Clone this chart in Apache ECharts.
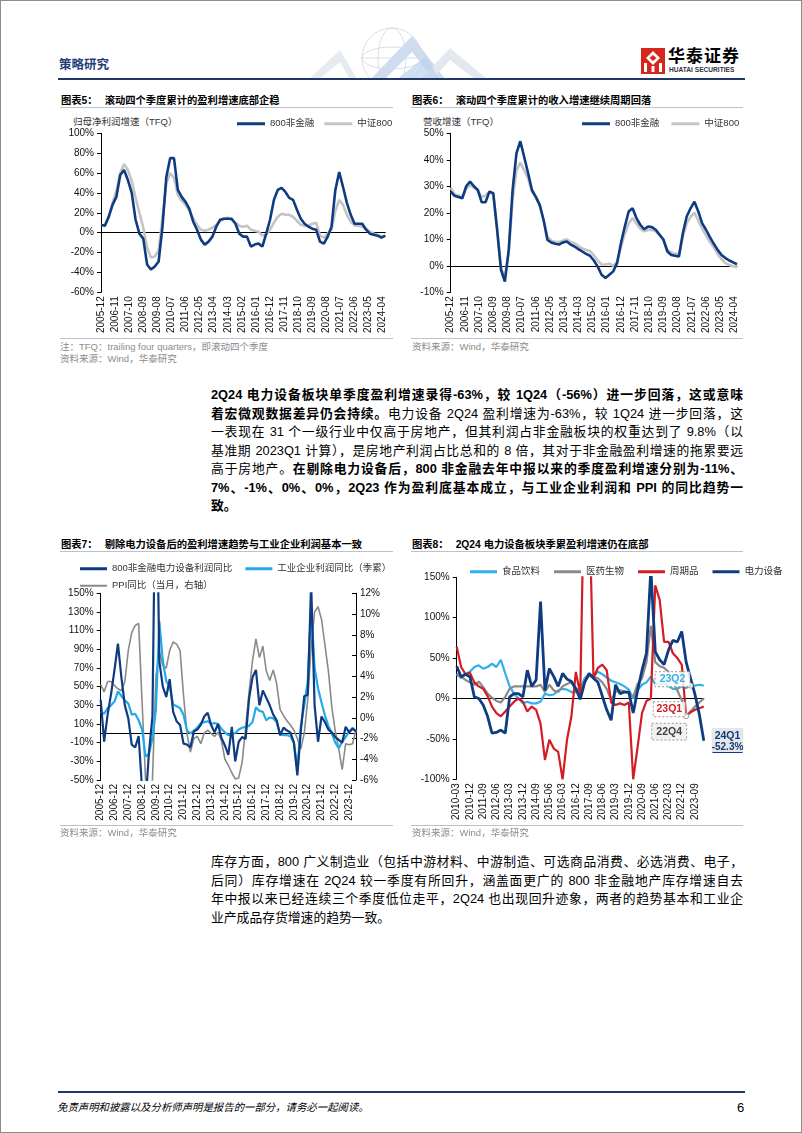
<!DOCTYPE html>
<html><head><meta charset="utf-8">
<script src="https://cdn.jsdelivr.net/npm/echarts@6/dist/echarts.min.js"></script>
<style>
html,body{margin:0;padding:0;background:#fff;}
#page{position:relative;width:802px;height:1133px;overflow:hidden;font-family:"Liberation Sans","Noto Sans CJK SC",sans-serif;color:#000;}
#frame{position:absolute;left:0;top:0;width:800px;height:1131px;border:1px solid #8d8d8d;pointer-events:none;}
.abs{position:absolute;white-space:nowrap;}
.title{font-size:10.3px;font-weight:bold;line-height:14px;}
.rule{position:absolute;height:1px;background:#b7c2d2;}
.note{font-size:9.5px;color:#8c8c8c;line-height:12px;}
.axname{font-size:9.5px;color:#333;line-height:12px;}
.para{position:absolute;left:211px;width:532px;font-size:12.8px;color:#000;}
.ln{text-align:justify;text-align-last:justify;height:18.5px;line-height:18.5px;overflow:hidden;}
.ln.last{text-align:left;text-align-last:left;}
.b{font-weight:bold;}
.chart{position:absolute;}
</style></head>
<body>
<div id="page">
  <!-- header -->
  <div class="abs" style="left:59px;top:57px;font-size:12.5px;font-weight:bold;color:#1f3d7a;line-height:16px;">策略研究</div>
  <svg class="abs" style="left:300px;top:26px" width="220" height="54">
    <g fill="none" stroke="#d9dee6" stroke-width="1">
      <circle cx="92" cy="32" r="30"/>
      <ellipse cx="92" cy="32" rx="14" ry="30"/>
      <ellipse cx="92" cy="32" rx="30" ry="11"/>
      <line x1="62" y1="32" x2="122" y2="32"/>
    </g>
    <polygon points="8,54 40,24 58,54 50,54 40,36 18,54" fill="#e6ebf1"/>
    <polygon points="70,54 112,10 146,54 134,54 112,26 84,54" fill="#cfdced"/>
    <polygon points="120,54 150,22 188,54 176,54 150,34 132,54" fill="#e3e8ef"/>
    <polygon points="96,54 126,30 140,54" fill="#b9d3ee" opacity="0.7"/>
  </svg>
  <svg class="abs" style="left:641px;top:48px" width="24" height="26">
    <rect x="0" y="0" width="24" height="26" fill="#d8261c"/>
    <polygon points="12,3 19,10 12,17 5,10" fill="#fff"/>
    <polygon points="12,7 15.5,10 12,13 8.5,10" fill="#d8261c"/>
    <rect x="3" y="15" width="3" height="9" fill="#fff"/>
    <rect x="10.5" y="18" width="3" height="6" fill="#fff"/>
    <rect x="18" y="15" width="3" height="9" fill="#fff"/>
  </svg>
  <div class="abs" style="left:668px;top:47px;font-size:17px;font-weight:bold;line-height:20px;letter-spacing:1px;">华泰证券</div>
  <div class="abs" style="left:669px;top:66px;font-size:6.6px;font-weight:bold;line-height:8px;color:#333;">HUATAI SECURITIES</div>
  <div class="abs" style="left:58px;top:78px;width:687px;height:2px;background:#1f3864;"></div>

  <!-- chart 5 / 6 titles -->
  <div class="abs title" style="left:61px;top:94px">图表5：<span style="margin-left:7px">滚动四个季度累计的盈利增速底部企稳</span></div>
  <div class="rule" style="left:60px;top:107px;width:333px;"></div>
  <div class="abs title" style="left:412px;top:94px">图表6：<span style="margin-left:7px">滚动四个季度累计的收入增速继续周期回落</span></div>
  <div class="rule" style="left:411px;top:107px;width:332px;"></div>
  <div class="abs axname" style="left:73px;top:116px">归母净利润增速（TFQ）</div>
  <div class="abs axname" style="left:423px;top:116px">营收增速（TFQ）</div>

  <div id="c5" class="chart" style="left:60px;top:112px;width:340px;height:225px;"></div>
  <div id="c6" class="chart" style="left:400px;top:112px;width:402px;height:225px;"></div>

  <div class="rule" style="left:60px;top:338px;width:333px;"></div>
  <div class="abs note" style="left:60px;top:341px">注：TFQ：trailing four quarters，即滚动四个季度</div>
  <div class="abs note" style="left:60px;top:353px">资料来源：Wind，华泰研究</div>
  <div class="rule" style="left:411px;top:338px;width:332px;"></div>
  <div class="abs note" style="left:412px;top:341px">资料来源：Wind，华泰研究</div>

  <!-- paragraph 1 -->
  <div class="para" style="top:386px;">
    <div class="ln b">2Q24 电力设备板块单季度盈利增速录得-63%，较 1Q24（-56%）进一步回落，这或意味</div>
    <div class="ln"><span class="b">着宏微观数据差异仍会持续。</span>电力设备 2Q24 盈利增速为-63%，较 1Q24 进一步回落，这</div>
    <div class="ln">一表现在 31 个一级行业中仅高于房地产，但其利润占非金融板块的权重达到了 9.8%（以</div>
    <div class="ln">基准期 2023Q1 计算），是房地产利润占比总和的 8 倍，其对于非金融盈利增速的拖累要远</div>
    <div class="ln">高于房地产。<span class="b">在剔除电力设备后，800 非金融去年中报以来的季度盈利增速分别为-11%、</span></div>
    <div class="ln b">7%、-1%、0%、0%，2Q23 作为盈利底基本成立，与工业企业利润和 PPI 的同比趋势一</div>
    <div class="ln b last">致。</div>
  </div>

  <!-- chart 7 / 8 titles -->
  <div class="abs title" style="left:61px;top:538px">图表7：<span style="margin-left:7px">剔除电力设备后的盈利增速趋势与工业企业利润基本一致</span></div>
  <div class="rule" style="left:60px;top:551px;width:333px;"></div>
  <div class="abs title" style="left:412px;top:538px">图表8：<span style="margin-left:7px">2Q24 电力设备板块季累盈利增速仍在底部</span></div>
  <div class="rule" style="left:411px;top:551px;width:332px;"></div>

  <div id="c7" class="chart" style="left:60px;top:556px;width:340px;height:275px;"></div>
  <div id="c8" class="chart" style="left:400px;top:556px;width:402px;height:275px;"></div>

  <div class="rule" style="left:60px;top:825px;width:333px;"></div>
  <div class="abs note" style="left:60px;top:827px">资料来源：Wind，华泰研究</div>
  <div class="rule" style="left:411px;top:825px;width:332px;"></div>
  <div class="abs note" style="left:412px;top:827px">资料来源：Wind，华泰研究</div>

  <!-- paragraph 2 -->
  <div class="para" style="top:853px;">
    <div class="ln">库存方面，800 广义制造业（包括中游材料、中游制造、可选商品消费、必选消费、电子，</div>
    <div class="ln">后同）库存增速在 2Q24 较一季度有所回升，涵盖面更广的 800 非金融地产库存增速自去</div>
    <div class="ln">年中报以来已经连续三个季度低位走平，2Q24 也出现回升迹象，两者的趋势基本和工业企</div>
    <div class="ln last">业产成品存货增速的趋势一致。</div>
  </div>

  <!-- footer -->
  <div class="abs" style="left:58px;top:1091px;width:687px;height:2px;background:#1f3864;"></div>
  <div class="abs" style="left:57px;top:1101px;font-size:10.4px;font-style:italic;line-height:14px;">免责声明和披露以及分析师声明是报告的一部分，请务必一起阅读。</div>
  <div class="abs" style="left:737px;top:1100px;font-size:13px;line-height:16px;">6</div>
  <div id="frame"></div>
</div>

<script>
// ---------------- DATA ----------------
// Charts 5-7: quarterly readings placed on a monthly axis (2005-12 ... 2024-06)
const monthStart = [2005, 12], monthEnd = [2024, 6];
// Chart 5: 归母净利润增速（TFQ）, quarter-ends from 2005-12 to 2024-06
const c5NonFin = [8,7,16,28,36,58,63,53,40,13,-1,-6,-32,-37,-34,-29,6,56,75,75,43,36,31,24,11,3,-7,-12,-9,-4,6,13,14,14,14,9,-1,-4,-4,-14,-12,-11,-14,-1,13,33,43,45,41,35,33,23,14,9,6,4,3,-9,-11,-4,6,43,61,46,30,18,9,9,9,3,-1,-2,-3,-5,-3];
const c5Csi800 = [8,7,15,30,42,60,69,63,52,35,20,5,-15,-25,-24,-18,15,50,60,55,38,32,28,22,14,8,3,2,3,5,8,12,14,15,13,10,7,6,7,3,2,1,-3,-2,3,10,16,19,18,18,16,12,8,7,7,9,10,-3,-5,-1,3,22,33,28,18,11,7,7,6,4,1,-1,-2,-4,-3];
// Chart 6: 营收增速（TFQ）
const c6NonFin = [28,26.4,26,25.5,30,31.8,30,28.6,24,24,28,27.4,13.6,-1.5,-6,6,28.6,42.5,47,41,35,28.6,26,23,17.3,9.8,8.8,8.3,8,8.8,9.2,8,7.3,6.3,5.4,4.5,3.8,2,-0.3,-3.4,-4.6,-3.4,-2.1,1,8.5,14.8,20.5,21.7,18,15.5,13.8,14.8,14.6,13.6,11.7,9.8,5.4,4.1,3.8,3.5,12.3,18.6,21.7,24.2,20.5,16,13.6,10.8,8.3,6,4.1,2.9,2,1.3,0.6];
const c6Csi800 = [29.5,27,26.5,26,29,30.5,29.5,28.5,26,26.5,28,27,14,-1,-4,5,25,36,39,36,33,28,26,23,17.5,11,9.5,9,9,9.5,10,9,8.5,7.5,6.5,6,5.5,4,2,0.5,0.5,0.8,0,1.5,7,12,16,18,16,14,13,13.5,13.5,13,11.5,10,6,5,4.5,4.5,11,16,18.5,20,17,14,11.5,9,7,4.5,2.5,1,0.3,-0.2,-0.5];
// Chart 7
const c7NonFinExPower = [36,-9,20,42,68,96,60,30,16,-12,-15,-3,-60,-75,-20,18,320,77,50,39,58,23,13,9,-11,-12,-15,2,4,9,18,22,9,1,10,-5,-13,-23,7,-30,-9,-4,-6,37,60,68,30,46,38,30,20,14,-2,6,3,1,-10,-45,2,40,41,160,30,-9,18,12,4,1,-4,-7,-10,7,1,5,2];
const c7Industrial = [23,21,27,30,34,45,40,35,32,20,21,14,4,-25,-22,-5,25,120,78,56,50,31,29,27,20,3,0,3,6,11,12,13,10,11,10,5,1,-2,0,0,4,6,7,8,12,28,24,23,14,17,16,12,-1,-2,-2,-3,-10,-38,8,30,55,136,70,48,33,19,8,0,-10,-16,-9,-4,2,6,2];
const c7Ppi = [3.2,2.5,3.5,3.5,3.1,2.8,2.6,3.5,6.5,8.2,8.9,9.1,1.5,-6.0,-8.2,-6.0,4.0,6.4,5.0,4.8,6.5,7.3,7.1,6.5,2.2,-1.5,-3.3,-2.0,-1.8,-2.5,-1.5,-1.2,-1.5,-1.8,-1.4,-2.2,-4.0,-4.6,-5.3,-5.9,-5.8,-4.3,-1.0,2.5,5.5,7.6,5.8,6.9,4.5,3.6,4.6,3.3,0.8,0.2,-0.3,-0.7,-1.2,-2.0,-3.0,-1.5,1.7,6.8,10.2,10.7,9.5,7.0,4.5,1.0,-1.3,-3.0,-5.0,-2.5,-2.6,-2.5,-1.2];
// Chart 8: quarterly 2010-03 ... 2024-03
const quarterStart = [2010, 3], quarterEnd = [2024, 3];
const c8Food   = [31,25,30,33,39,41,37,39,43,39,48,31,15,6,0,-6,-4,-6,-6,-4,6,4,5,10,12,11,8,8,12,25,30,28,33,30,26,22,20,18,15,11,0,10,17,20,27,18,17,19,15,12,12,15,13,16,16,17,16];
const c8Pharma = [29,27,23,20,17,21,14,6,1,-3,-5,2,12,15,15,15,15,15,15,17,8,17,10,8,15,18,20,12,10,22,28,27,25,20,12,-2,8,10,9,7,2,18,25,45,90,45,40,38,33,22,10,-2,-21,-16,-10,-5,0];
const c8Cyclical = [64,39,30,32,20,15,12,3,-10,-18,-22,-16,-10,-4,0,-4,-16,-10,-14,-31,-76,-51,-62,-66,-100,-51,-22,33,5,300,250,25,38,42,35,-5,-8,-6,-8,-5,-100,-60,-18,-3,0,140,122,70,70,56,50,42,-22,-17,-14,-12,-10];
const c8Power  = [40,27,30,27,2,0,-8,-22,-43,-42,-39,-43,2,6,6,2,35,15,23,120,10,37,27,15,31,24,21,12,-1,20,31,25,20,3,-14,-27,17,6,8,8,-18,10,35,56,160,58,48,42,60,72,70,83,45,25,5,-20,-52.3];
// annotation points (category, value)
const c8Marks = { food: ['2023-06', 16], cyclical: ['2023-03', -22], pharma: ['2023-03', -21] };

// ---------------- HELPERS ----------------
function monthLabels(s, e, step) {
  const out = []; let y = s[0], m = s[1];
  while (y < e[0] || (y === e[0] && m <= e[1])) {
    out.push(y + '-' + String(m).padStart(2, '0'));
    m += step; while (m > 12) { m -= 12; y++; }
  }
  return out;
}
const months = monthLabels(monthStart, monthEnd, 1);
const quarters = monthLabels(quarterStart, quarterEnd, 3);
function onMonths(q) { return months.map((_, i) => (i % 3 === 0 ? q[i / 3] : null)); }

const FF = '"Liberation Sans","Noto Sans CJK SC",sans-serif';
const NAVY = '#0f3b80', LGRAY = '#c4c4c4', LBLUE = '#22aaeb', MGRAY = '#8a8a8a', RED = '#d31c23';

function xAxes(cats, interval) {
  return [
    { type: 'category', data: cats, boundaryGap: false, position: 'bottom',
      axisLine: { show: false, onZero: false }, axisTick: { show: false },
      axisLabel: { interval: interval, rotate: 90, fontSize: 10, color: '#111', margin: 4, fontFamily: FF } },
    { type: 'category', data: cats, boundaryGap: false, position: 'bottom',
      axisLine: { show: true, onZero: true, onZeroAxisIndex: 0, lineStyle: { color: '#000', width: 1 } },
      axisTick: { show: false }, axisLabel: { show: false } }
  ];
}
function yAxis(min, max, interval, extra) {
  return Object.assign({
    type: 'value', min: min, max: max, interval: interval,
    axisLine: { show: true, lineStyle: { color: '#000', width: 1 } },
    axisTick: { show: true, length: 4, lineStyle: { color: '#000' } },
    splitLine: { show: false },
    axisLabel: { formatter: '{value}%', fontSize: 10, color: '#111', margin: 7, fontFamily: FF }
  }, extra || {});
}
function line(name, data, color, width, extra) {
  return Object.assign({
    name: name, type: 'line', data: data, connectNulls: true, showSymbol: false, symbol: 'none',
    clip: true, lineStyle: { color: color, width: width }, itemStyle: { color: color }, emphasis: { disabled: true }
  }, extra || {});
}
function legend(names, left, top, extra) {
  return Object.assign({
    data: names, left: left, top: top, icon: 'rect', itemWidth: 27, itemHeight: 3, itemGap: 12,
    textStyle: { fontSize: 9.5, color: '#333', fontFamily: FF }, selectedMode: false
  }, extra || {});
}

// ---------------- CHART 5 ----------------
echarts.init(document.getElementById('c5'), null, { renderer: 'canvas' }).setOption({
  animation: false, textStyle: { fontFamily: FF },
  legend: legend(['800非金融', '中证800'], 172, 2, { itemWidth: 28, itemGap: 10 }),
  grid: { left: 41, top: 21.3, width: 284.3, height: 159, outerBoundsMode: 'none' },
  xAxis: xAxes(months, 10),
  yAxis: yAxis(-60, 100, 20),
  series: [
    line('中证800', onMonths(c5Csi800), LGRAY, 2.6),
    line('800非金融', onMonths(c5NonFin), NAVY, 2.6)
  ]
});

// ---------------- CHART 6 ----------------
echarts.init(document.getElementById('c6')).setOption({
  animation: false, textStyle: { fontFamily: FF },
  legend: legend(['800非金融', '中证800'], 177, 2, { itemWidth: 28, itemGap: 12 }),
  grid: { left: 50.7, top: 21.3, width: 286.3, height: 159, outerBoundsMode: 'none' },
  xAxis: xAxes(months, 10),
  yAxis: yAxis(-10, 50, 10),
  series: [
    line('中证800', onMonths(c6Csi800), LGRAY, 2.6),
    line('800非金融', onMonths(c6NonFin), NAVY, 2.6)
  ]
});

// ---------------- CHART 7 ----------------
const n7a = '800非金融电力设备利润同比', n7b = '工业企业利润同比（季累）', n7c = 'PPI同比（当月，右轴）';
echarts.init(document.getElementById('c7')).setOption({
  animation: false, textStyle: { fontFamily: FF },
  legend: [
    legend([n7a, n7b], 15, 3, { itemGap: 13 }),
    legend([n7c], 15, 20, { itemHeight: 2 })
  ],
  grid: { left: 40.7, top: 37.3, width: 255.3, height: 186.7, outerBoundsMode: 'none' },
  xAxis: xAxes(months, 11),
  yAxis: [
    yAxis(-50, 150, 20),
    yAxis(-6, 12, 2, { position: 'right',
      axisTick: { show: true, inside: true, length: 4, lineStyle: { color: '#000' } },
      axisLabel: { formatter: '{value}%', fontSize: 10, color: '#111', margin: 4, fontFamily: FF } })
  ],
  series: [
    line(n7c, onMonths(c7Ppi), MGRAY, 1.6, { yAxisIndex: 1 }),
    line(n7b, onMonths(c7Industrial), LBLUE, 2.2),
    line(n7a, onMonths(c7NonFinExPower), NAVY, 2.2)
  ]
});

// ---------------- CHART 8 ----------------
const mp = (coord) => ({ symbol: 'circle', symbolSize: 5, silent: true, label: { show: false },
  itemStyle: { color: '#fff', borderColor: '#9a9a9a', borderWidth: 1 }, data: [{ coord: coord }] });
function box(x, y, w, h, fill, txt, color) {
  return [
    { type: 'rect', shape: { x: x, y: y, width: w, height: h }, z: 100,
      style: { fill: fill, stroke: '#9a9a9a', lineWidth: 1, lineDash: [2, 2] } },
    { type: 'text', x: x + w / 2, y: y + h / 2, z: 101,
      style: { text: txt, fill: color, font: 'bold 10.5px "Liberation Sans"', textAlign: 'center', textVerticalAlign: 'middle', align: 'center', verticalAlign: 'middle' } }
  ];
}
echarts.init(document.getElementById('c8')).setOption({
  animation: false, textStyle: { fontFamily: FF },
  legend: legend(['食品饮料', '医药生物', '周期品', '电力设备'], 65, 6, { itemGap: 14 }),
  grid: { left: 56.7, top: 21.3, width: 247.1, height: 202, outerBoundsMode: 'none' },
  xAxis: xAxes(quarters, 2),
  yAxis: yAxis(-100, 150, 50),
  series: [
    line('食品饮料', c8Food, '#2fb2ea', 2.2, { markPoint: mp(c8Marks.food) }),
    line('医药生物', c8Pharma, MGRAY, 2.2, { markPoint: mp(c8Marks.pharma) }),
    line('周期品', c8Cyclical, RED, 2.2, { markPoint: mp(c8Marks.cyclical) }),
    line('电力设备', c8Power, NAVY, 2.8)
  ],
  graphic: [].concat(
    box(255, 115.7, 35, 15, 'rgba(255,255,255,0.85)', '23Q2', '#2fb2ea'),
    box(253.3, 145.7, 32, 15, 'rgba(255,255,255,0.85)', '23Q1', RED),
    box(251.7, 167.3, 35, 16.7, '#f1f1f1', '22Q4', '#404040'),
    [
      { type: 'rect', shape: { x: 311.7, y: 172, width: 31.6, height: 25 }, z: 100, style: { fill: '#e6e6e6' } },
      { type: 'text', x: 327.5, y: 180, z: 101, style: { text: '24Q1', fill: NAVY, font: 'bold 10.5px "Liberation Sans"', textAlign: 'center', textVerticalAlign: 'middle', align: 'center', verticalAlign: 'middle' } },
      { type: 'text', x: 327.5, y: 191, z: 101, style: { text: '-52.3%', fill: NAVY, font: 'bold 10px "Liberation Sans"', textAlign: 'center', textVerticalAlign: 'middle', align: 'center', verticalAlign: 'middle' } },
      { type: 'line', shape: { x1: 312.5, y1: 196.5, x2: 342.5, y2: 196.5 }, z: 101, style: { stroke: NAVY, lineWidth: 1 } }
    ]
  )
});
</script>
</body></html>
